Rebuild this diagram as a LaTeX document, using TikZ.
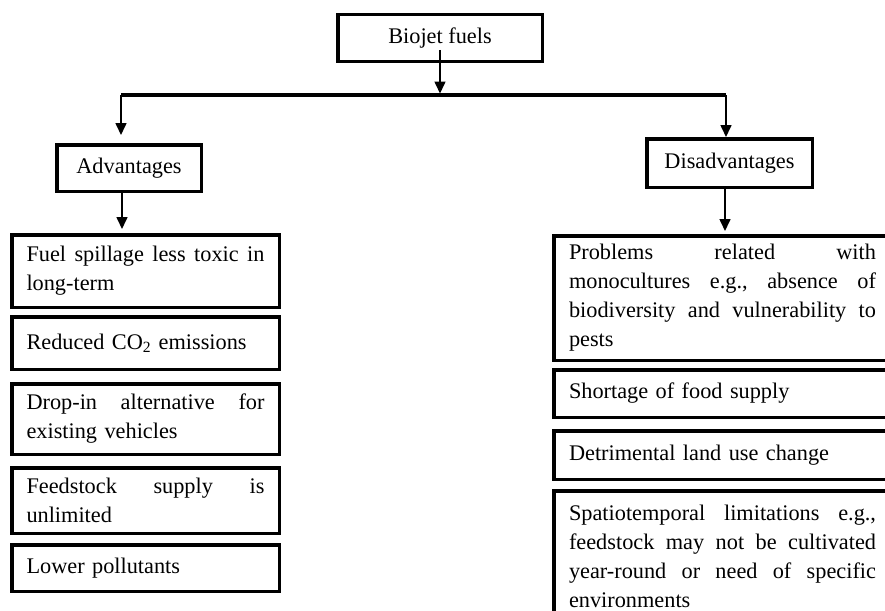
\documentclass[tikz,border=0pt]{standalone}
\usepackage{fontspec}
\setmainfont{Liberation Serif}
\usetikzlibrary{arrows.meta}
% justified lines: interword spaces stretched to the text width of each column
\newcommand{\jfill}[2]{\leavevmode\hbox to #1{\spaceskip=\fontdimen2\font plus 1fil\relax #2}\\}
\newcommand{\jleft}[1]{\jfill{238pt}{#1}}
\newcommand{\jright}[1]{\jfill{307pt}{#1}}

\begin{document}
\frenchspacing
\begin{tikzpicture}[x=1pt,y=-1pt,
  txt/.style={font=\fontsize{22.3}{29}\selectfont},
  headbox/.style={draw, line width=3.5pt, txt, inner sep=0pt},
  leftbox/.style={draw, line width=3.5pt, txt, text width=238pt,
    inner xsep=14.75pt, inner ysep=0pt, minimum width=267.5pt},
  rightbox/.style={draw, line width=3.5pt, txt, text width=307pt,
    inner xsep=15.25pt, inner ysep=0pt, minimum width=337.5pt},
  branch/.style={line width=4pt},
  arr/.style={line width=1.6pt, -{Triangle[width=11pt,length=12pt]}}
]
\useasboundingbox (0,0) rectangle (885,610);
\clip (0,0) rectangle (885,610);

% headings
\node[headbox, minimum width=204.5pt, minimum height=46.5pt] (bio) at (440,38) {Biojet fuels};
\node[headbox, minimum width=144.5pt, minimum height=46.5pt] (adv) at (129,168) {Advantages};
\node[headbox, minimum width=165.5pt, minimum height=48.5pt] (dis) at (729.5,163) {Disadvantages};

% advantages
\node[leftbox, minimum height=72.5pt] (l1) at (145.5,271) {\jleft{Fuel spillage less toxic in}long-term};
\node[leftbox, minimum height=52.5pt] (l2) at (145.5,343) {Reduced CO\textsubscript{2} emissions};
\node[leftbox, minimum height=70.5pt] (l3) at (145.5,419) {\jleft{Drop-in alternative for}existing vehicles};
\node[leftbox, minimum height=65.5pt] (l4) at (145.5,500.5) {\jleft{Feedstock supply is}unlimited};
\node[leftbox, minimum height=46.5pt] (l5) at (145.5,568) {Lower pollutants};

% disadvantages
\node[rightbox, minimum height=124.5pt] (r1) at (722.5,298) {\jright{Problems related with}\jright{monocultures e.g., absence of}\jright{biodiversity and vulnerability to}pests};
\node[rightbox, minimum height=47.5pt] (r2) at (722.5,393.5) {Shortage of food supply};
\node[rightbox, minimum height=48.5pt] (r3) at (722.5,455) {Detrimental land use change};
\node[rightbox, minimum height=131.5pt] (r4) at (722.5,556.5) {\jright{Spatiotemporal limitations e.g.,}\jright{feedstock may not be cultivated}\jright{year-round or need of specific}environments};

% connectors
\coordinate (hl) at (121,95);
\coordinate (hr) at (726,95);
\draw[branch] (hl) -- (hr);
\draw[arr, shorten >=1.5pt] ([yshift=13pt]bio.south) -- (bio.south |- hl);
\draw[arr, shorten >=8pt] (hl) -- (hl |- adv.north);
\draw[arr] (hr) -- (hr |- dis.north);
\coordinate (as) at ([xshift=-7pt]adv.south);
\draw[arr, shorten >=4pt] (as) -- (as |- l1.north);
\coordinate (ds) at ([xshift=-4.5pt]dis.south);
\draw[arr, shorten >=3pt] (ds) -- (ds |- r1.north);
\end{tikzpicture}
\end{document}
